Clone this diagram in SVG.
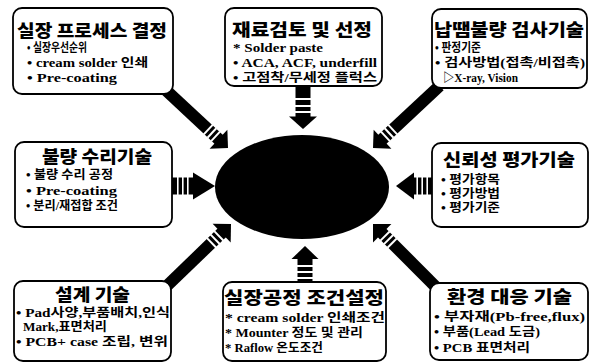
<svg xmlns="http://www.w3.org/2000/svg" width="589" height="364" viewBox="0 0 589 364">
<style>
.box{fill:#fff;stroke:#000;stroke-width:1.8}
.t{font-family:"Liberation Serif","Noto Sans CJK KR",serif;font-weight:bold;fill:#000}
.h{font-size:17px;font-family:"Noto Sans CJK KR",sans-serif;font-weight:900}
.i{font-size:12.5px}
.blk{fill:#000}
.wh{fill:#fff}
</style>
<rect width="589" height="364" fill="#fff"/>
<g id="connectors">
  <g transform="translate(228,148) rotate(43)">
    <rect class="blk" x="-89" y="-6" width="78" height="12"/>
    <polygon class="blk" points="-13,-13 0,0 -13,13"/>
    <rect class="wh" x="-18" y="-6.5" width="2" height="13"/><rect class="wh" x="-23" y="-6.5" width="2" height="13"/><rect class="wh" x="-28" y="-6.5" width="2" height="13"/>
  </g>
  <g transform="translate(373,148) rotate(137)">
    <rect class="blk" x="-91" y="-6" width="80" height="12"/>
    <polygon class="blk" points="-13,-13 0,0 -13,13"/>
    <rect class="wh" x="-18" y="-6.5" width="2" height="13"/><rect class="wh" x="-23" y="-6.5" width="2" height="13"/><rect class="wh" x="-28" y="-6.5" width="2" height="13"/>
  </g>
  <g transform="translate(231,224) rotate(-44)">
    <rect class="blk" x="-90" y="-6" width="79" height="12"/>
    <polygon class="blk" points="-13,-13 0,0 -13,13"/>
    <rect class="wh" x="-18" y="-6.5" width="2" height="13"/><rect class="wh" x="-23" y="-6.5" width="2" height="13"/><rect class="wh" x="-28" y="-6.5" width="2" height="13"/>
  </g>
  <g transform="translate(373,224) rotate(-135)">
    <rect class="blk" x="-90" y="-6" width="79" height="12"/>
    <polygon class="blk" points="-13,-13 0,0 -13,13"/>
    <rect class="wh" x="-18" y="-6.5" width="2" height="13"/><rect class="wh" x="-23" y="-6.5" width="2" height="13"/><rect class="wh" x="-28" y="-6.5" width="2" height="13"/>
  </g>
  <g transform="translate(215,186)">
    <rect class="blk" x="-43" y="-8.5" width="23" height="17"/>
    <polygon class="blk" points="-22,-13.5 0,0 -22,13.5"/>
    <rect class="wh" x="-38" y="-9" width="1.6" height="18"/><rect class="wh" x="-33" y="-9" width="1.6" height="18"/><rect class="wh" x="-28" y="-9" width="1.6" height="18"/>
  </g>
  <g transform="translate(396,186) rotate(180)">
    <rect class="blk" x="-36" y="-8.5" width="20" height="17"/>
    <polygon class="blk" points="-18,-13.5 0,0 -18,13.5"/>
    <rect class="wh" x="-32" y="-9" width="1.6" height="18"/><rect class="wh" x="-27" y="-9" width="1.6" height="18"/><rect class="wh" x="-22" y="-9" width="1.6" height="18"/>
  </g>
  <g transform="translate(303,129) rotate(90)">
    <rect class="blk" x="-44" y="-7.5" width="33" height="15"/>
    <polygon class="blk" points="-12.5,-14 0,0 -12.5,14"/>
    <rect class="wh" x="-31" y="-8" width="2" height="16"/><rect class="wh" x="-24" y="-8" width="2" height="16"/><rect class="wh" x="-18" y="-8" width="2" height="16"/>
  </g>
  <g transform="translate(305,246) rotate(-90)">
    <rect class="blk" x="-37" y="-7.5" width="26" height="15"/>
    <polygon class="blk" points="-13,-13.5 0,0 -13,13.5"/>
    <rect class="wh" x="-33" y="-8" width="2" height="16"/><rect class="wh" x="-27" y="-8" width="2" height="16"/><rect class="wh" x="-21" y="-8" width="2" height="16"/>
  </g>
</g>
<g id="center">
  <ellipse cx="302" cy="187" rx="87" ry="52" fill="#000"/>
</g>
<g id="n-process">
  <rect class="box" x="13" y="8" width="160" height="86" rx="9"/>
  <text class="t h" x="17" y="37" textLength="150" lengthAdjust="spacingAndGlyphs">실장 프로세스 결정</text>
  <text class="t i" x="27" y="52" textLength="60" lengthAdjust="spacingAndGlyphs">• 실장우선순위</text>
  <text class="t i" x="27" y="67" textLength="121" lengthAdjust="spacingAndGlyphs">• cream solder 인쇄</text>
  <text class="t i" x="27" y="82" textLength="90" lengthAdjust="spacingAndGlyphs">• Pre-coating</text>
</g>
<g id="n-material">
  <rect class="box" x="225" y="8" width="157" height="78" rx="9"/>
  <text class="t h" x="232" y="36" textLength="140" lengthAdjust="spacingAndGlyphs">재료검토 및 선정</text>
  <text class="t i" x="233" y="52" textLength="90" lengthAdjust="spacingAndGlyphs">* Solder paste</text>
  <text class="t i" x="233" y="67" textLength="144" lengthAdjust="spacingAndGlyphs">• ACA, ACF, underfill</text>
  <text class="t i" x="233" y="82" textLength="144" lengthAdjust="spacingAndGlyphs">• 고점착/무세정 플럭스</text>
</g>
<g id="n-inspect">
  <rect class="box" x="432" y="9" width="155" height="79" rx="9"/>
  <text class="t h" x="434" y="36" textLength="150" lengthAdjust="spacingAndGlyphs">납땜불량 검사기술</text>
  <text class="t i" x="435" y="52" textLength="46" lengthAdjust="spacingAndGlyphs">• 판정기준</text>
  <text class="t i" x="435" y="67" textLength="150" lengthAdjust="spacingAndGlyphs">• 검사방법(접촉/비접촉)</text>
  <text class="t i" x="443" y="82" textLength="75" lengthAdjust="spacingAndGlyphs">▷X-ray, Vision</text>
</g>
<g id="n-repair">
  <rect class="box" x="15" y="142" width="157" height="85" rx="9"/>
  <text class="t h" x="42" y="163" textLength="110" lengthAdjust="spacingAndGlyphs">불량 수리기술</text>
  <text class="t i" x="26" y="179" textLength="87" lengthAdjust="spacingAndGlyphs">• 불량 수리 공정</text>
  <text class="t i" x="26" y="195" textLength="91" lengthAdjust="spacingAndGlyphs">• Pre-coating</text>
  <text class="t i" x="26" y="210" textLength="92" lengthAdjust="spacingAndGlyphs">• 분리/재접합 조건</text>
</g>
<g id="n-reliability">
  <rect class="box" x="432" y="143" width="156" height="84" rx="9"/>
  <text class="t h" x="443" y="166" textLength="132" lengthAdjust="spacingAndGlyphs">신뢰성 평가기술</text>
  <text class="t i" x="441" y="184" textLength="59" lengthAdjust="spacingAndGlyphs">• 평가항목</text>
  <text class="t i" x="441" y="198" textLength="59" lengthAdjust="spacingAndGlyphs">• 평가방법</text>
  <text class="t i" x="441" y="212" textLength="59" lengthAdjust="spacingAndGlyphs">• 평가기준</text>
</g>
<g id="n-design">
  <rect class="box" x="14" y="281" width="157" height="80" rx="9"/>
  <text class="t h" x="55" y="301" textLength="75" lengthAdjust="spacingAndGlyphs">설계 기술</text>
  <text class="t i" x="16" y="317" textLength="154" lengthAdjust="spacingAndGlyphs">• Pad사양,부품배치,인식</text>
  <text class="t i" x="23" y="331" textLength="84" lengthAdjust="spacingAndGlyphs">Mark,표면처리</text>
  <text class="t i" x="16" y="346" textLength="152" lengthAdjust="spacingAndGlyphs">• PCB+ case 조립, 변위</text>
</g>
<g id="n-condition">
  <rect class="box" x="223" y="282" width="163" height="79" rx="9"/>
  <text class="t h" x="224" y="304" textLength="160" lengthAdjust="spacingAndGlyphs">실장공정 조건설정</text>
  <text class="t i" x="225" y="322" textLength="160" lengthAdjust="spacingAndGlyphs">* cream solder 인쇄조건</text>
  <text class="t i" x="225" y="337" textLength="138" lengthAdjust="spacingAndGlyphs">* Mounter 정도 및 관리</text>
  <text class="t i" x="225" y="352" textLength="98" lengthAdjust="spacingAndGlyphs">* Raflow 온도조건</text>
</g>
<g id="n-environment">
  <rect class="box" x="430" y="283" width="158" height="77" rx="9"/>
  <text class="t h" x="447" y="303" textLength="125" lengthAdjust="spacingAndGlyphs">환경 대응 기술</text>
  <text class="t i" x="434" y="321" textLength="151" lengthAdjust="spacingAndGlyphs">• 부자재(Pb-free,flux)</text>
  <text class="t i" x="434" y="336" textLength="106" lengthAdjust="spacingAndGlyphs">• 부품(Lead 도금)</text>
  <text class="t i" x="434" y="352" textLength="96" lengthAdjust="spacingAndGlyphs">• PCB 표면처리</text>
</g>
</svg>
